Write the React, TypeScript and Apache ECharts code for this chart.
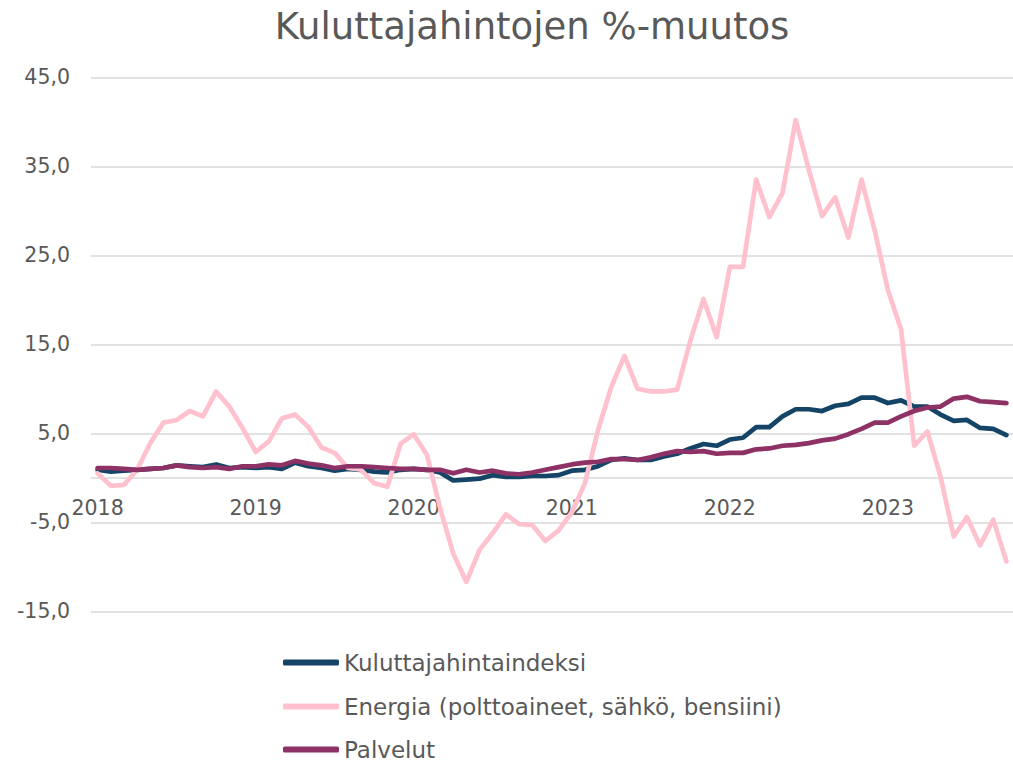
import React, { useEffect, useRef } from "react";
import * as echarts from "echarts";

const years = [2018, 2019, 2020, 2021, 2022, 2023];
const monthsInLastYear = 10;

const categories: string[] = [];
years.forEach((y, yi) => {
  const n = yi === years.length - 1 ? monthsInLastYear : 12;
  for (let m = 1; m <= n; m++) categories.push(`${y}-${String(m).padStart(2, "0")}`);
});

const seriesNames = [
  "Kuluttajahintaindeksi",
  "Energia (polttoaineet, sähkö, bensiini)",
  "Palvelut",
];

const khi = [
  0.9, 0.7, 0.8, 0.9, 1.0, 1.1, 1.4, 1.3, 1.2, 1.5, 1.1, 1.2,
  1.1, 1.2, 1.0, 1.7, 1.3, 1.1, 0.8, 1.0, 0.9, 0.7, 0.6, 0.9,
  1.0, 0.9, 0.6, -0.3, -0.2, -0.1, 0.3, 0.1, 0.1, 0.2, 0.2, 0.3,
  0.8, 0.9, 1.3, 2.0, 2.2, 2.0, 2.0, 2.4, 2.7, 3.3, 3.8, 3.6,
  4.3, 4.5, 5.7, 5.7, 6.9, 7.7, 7.7, 7.5, 8.1, 8.3, 9.0, 9.0,
  8.4, 8.7, 8.0, 8.0, 7.1, 6.4, 6.5, 5.6, 5.5, 4.8,
];

const energia = [
  0.5, -0.9, -0.8, 0.9, 3.9, 6.2, 6.5, 7.5, 6.9, 9.7, 8.0, 5.6,
  2.9, 4.1, 6.7, 7.1, 5.7, 3.4, 2.8, 1.1, 0.9, -0.6, -1.0, 3.8,
  4.9, 2.6, -3.4, -8.5, -11.7, -8.1, -6.2, -4.1, -5.2, -5.3, -7.1, -5.9,
  -3.9, -0.6, 5.4, 10.2, 13.7, 10.0, 9.7, 9.7, 9.9, 15.4, 20.1, 15.8,
  23.7, 23.7, 33.5, 29.3, 32.0, 40.2, 34.6, 29.4, 31.5, 27.0, 33.5, 27.8,
  21.1, 16.7, 3.6, 5.2, 0.1, -6.6, -4.4, -7.6, -4.7, -9.4,
];

const palvelut = [
  1.1, 1.1, 1.0, 0.9, 1.0, 1.1, 1.4, 1.2, 1.1, 1.2, 1.0, 1.3,
  1.3, 1.5, 1.4, 1.9, 1.6, 1.4, 1.1, 1.3, 1.3, 1.2, 1.1, 1.0,
  1.0, 0.9, 0.9, 0.5, 0.9, 0.6, 0.8, 0.5, 0.4, 0.6, 0.9, 1.2,
  1.5, 1.7, 1.8, 2.1, 2.1, 2.0, 2.3, 2.7, 3.0, 2.9, 3.0, 2.7,
  2.8, 2.8, 3.2, 3.3, 3.6, 3.7, 3.9, 4.2, 4.4, 4.9, 5.5, 6.2,
  6.2, 6.9, 7.5, 7.9, 8.0, 8.9, 9.1, 8.6, 8.5, 8.4,
];

const colors = ["#144466", "#FFC1CE", "#8E3165"];
const FONT = "'DejaVu Sans', 'Noto Sans', sans-serif";
const TEXT = "#595959";
const GRID = "#D9D9D9";

const GRID_TOP = 77.3;
const GRID_HEIGHT = 534;
const Y_MIN = -15;
const Y_MAX = 45;

export default function App() {
  const ref = useRef<HTMLDivElement>(null);
  useEffect(() => {
    if (!ref.current) return;
    const chart = echarts.init(ref.current, undefined, { renderer: "svg" });
    const lineSeries = [khi, energia, palvelut].map((d, i) => ({
      name: seriesNames[i],
      type: "line",
      data: d,
      showSymbol: false,
      symbol: "none",
      lineStyle: { color: colors[i], width: 4.7, cap: "round", join: "round" },
      itemStyle: { color: colors[i] },
      z: 2 + i,
    }));
    const zeroOffset = (GRID_HEIGHT * (0 - Y_MIN)) / (Y_MAX - Y_MIN);
    const legendTops = [651, 695, 738];
    chart.setOption({
      animation: false,
      textStyle: { fontFamily: FONT },
      graphic: [
        {
          type: "text",
          x: 532,
          y: 26,
          style: {
            text: "Kuluttajahintojen %-muutos",
            textAlign: "center",
            textVerticalAlign: "middle",
            fontSize: 37,
            fontFamily: FONT,
            fill: TEXT,
          },
        },
      ],
      grid: { left: 91, top: GRID_TOP, height: GRID_HEIGHT, width: 929, containLabel: false },
      legend: seriesNames.map((name, i) => ({
        orient: "vertical",
        left: 283,
        top: legendTops[i],
        padding: 0,
        itemWidth: 56,
        itemHeight: 6,
        icon: "roundRect",
        data: [name],
        textStyle: { fontSize: 23, color: TEXT, fontFamily: FONT, lineHeight: 22 },
      })),
      xAxis: {
        type: "category",
        data: categories,
        boundaryGap: true,
        offset: -zeroOffset,
        axisLine: { onZero: false, lineStyle: { color: GRID, width: 1.5 } },
        axisTick: { show: false },
        splitLine: { show: false },
        axisLabel: {
          interval: (idx: number) => idx % 12 === 0,
          formatter: (v: string) => v.slice(0, 4),
          fontSize: 20.5,
          color: TEXT,
          fontFamily: FONT,
          margin: 20,
        },
      },
      yAxis: {
        type: "value",
        min: Y_MIN,
        max: Y_MAX,
        interval: 10,
        axisLine: { show: false },
        axisTick: { show: false },
        splitLine: { lineStyle: { color: GRID, width: 1.5 } },
        axisLabel: {
          formatter: (v: number) => v.toFixed(1).replace(".", ","),
          fontSize: 20.5,
          color: TEXT,
          fontFamily: FONT,
          margin: 21,
        },
      },
      series: lineSeries,
    });
    return () => chart.dispose();
  }, []);
  return (
    <div
      ref={ref}
      style={{ position: "fixed", left: 0, top: 0, width: 1013, height: 761, background: "#fff" }}
    />
  );
}
